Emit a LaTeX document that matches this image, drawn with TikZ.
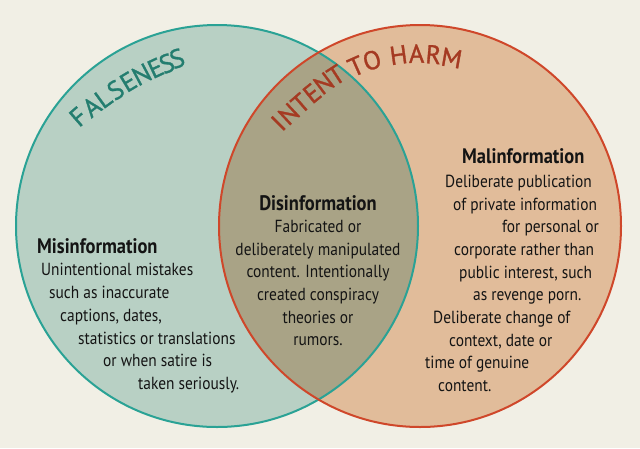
\documentclass[tikz,border=0pt]{standalone}
\usepackage{fontspec}
\setmainfont{PT Sans}
\newfontfamily\bodyf{PT Sans}[FakeStretch=0.88]
\newfontfamily\titlef{PT Sans}[FakeBold=1.2]
\usetikzlibrary{calc}
\definecolor{bgc}{HTML}{F1EFE5}
\definecolor{leftc}{HTML}{B8D0C4}
\definecolor{rightc}{HTML}{E1BC9A}
\definecolor{overc}{HTML}{A9A386}
\definecolor{tealc}{HTML}{2AA295}
\definecolor{redc}{HTML}{CF472A}
\definecolor{falsec}{HTML}{237D6F}
\definecolor{harmc}{HTML}{A53A22}
\definecolor{inkc}{HTML}{141414}
\tikzset{
  body/.style={font=\bodyf\fontsize{17.5}{17.5}\selectfont, inner sep=0pt, text=inkc},
  head/.style={font=\bodyf\bfseries\fontsize{21}{21}\selectfont, inner sep=0pt, text=inkc},
  letterf/.style={font=\titlef\fontsize{26}{26}\selectfont, inner sep=0pt, anchor=center, text=falsec},
  letterh/.style={font=\titlef\fontsize{26}{26}\selectfont, inner sep=0pt, anchor=center, text=harmc},
}
\begin{document}
\begin{tikzpicture}[x=1pt,y=1pt]
\useasboundingbox (0,0) rectangle (640,-448);
\fill[bgc] (0,0) rectangle (640,-448);
\coordinate (lc) at (217,-226);
\coordinate (rc) at (420,-226);
% fills
\fill[leftc] (lc) circle[radius=201];
\fill[rightc] (rc) circle[radius=201];
\begin{scope}
  \clip (lc) circle[radius=201];
  \fill[overc] (rc) circle[radius=201];
\end{scope}
% outlines
\draw[tealc, line width=2pt] (lc) circle[radius=201];
\draw[redc, line width=2pt] (rc) circle[radius=201];
% FALSENESS, letter by letter along its arc
\foreach \ch/\x/\y/\r [count=\i] in {
  F/78.3/116.7/41, A/91.7/106.7/38, L/103.3/98.3/36, S/115.5/90/34,
  E/128.3/81.7/31, N/141.7/74.5/28, E/155.5/68/25, S/166.7/63.5/22,
  S/177/58.5/20}
  \node[letterf, rotate=\r] (fl\i) at (\x,-\y) {\ch};
% INTENT TO HARM, letter by letter along its arc
\foreach \ch/\x/\y/\r [count=\i] in {
  I/278.3/123.3/45, N/288.8/114/43, T/300.5/103.3/41, E/312/93.3/39,
  N/323.8/83.3/37, T/336/75/33, T/356/66.2/24, O/372/60.2/17,
  H/398.5/55/8, A/416.5/53.5/1, R/433.5/54.5/-5, M/451.7/58/-10}
  \node[letterh, rotate=\r] (hl\i) at (\x,-\y) {\ch};
% Misinformation
\node[head, anchor=base west] (mish) at (37,-253) {Misinformation};
\foreach \t/\x/\y [count=\i] in {
  {Unintentional mistakes}/41/275,
  {such as inaccurate}/49/298,
  {captions, dates,}/60/321,
  {statistics or translations}/78/344,
  {or when satire is}/103/366,
  {taken seriously.}/138/389}
  \node[body, anchor=base west] (mis\i) at (\x,-\y) {\t};
% Disinformation
\node[head, anchor=base] (dish) at (318,-210) {Disinformation};
\foreach \t/\y [count=\i] in {
  {Fabricated or}/232,
  {deliberately manipulated}/255,
  {content. Intentionally}/277,
  {created conspiracy}/300,
  {theories or}/323,
  {rumors.}/345}
  \node[body, anchor=base] (dis\i) at (318,-\y) {\t};
% Malinformation
\node[head, anchor=base west] (malh) at (462,-163) {Malinformation};
\foreach \t/\x/\y [count=\i] in {
  {Deliberate publication}/445/187,
  {of private information}/453/210,
  {for personal or}/502/232,
  {corporate rather than}/454/255,
  {public interest, such}/459/278,
  {as revenge porn.}/473/300,
  {Deliberate change of}/433/323,
  {context, date or}/449/346,
  {time of genuine}/425/368,
  {content.}/438/391}
  \node[body, anchor=base west] (mal\i) at (\x,-\y) {\t};
\end{tikzpicture}
\end{document}
